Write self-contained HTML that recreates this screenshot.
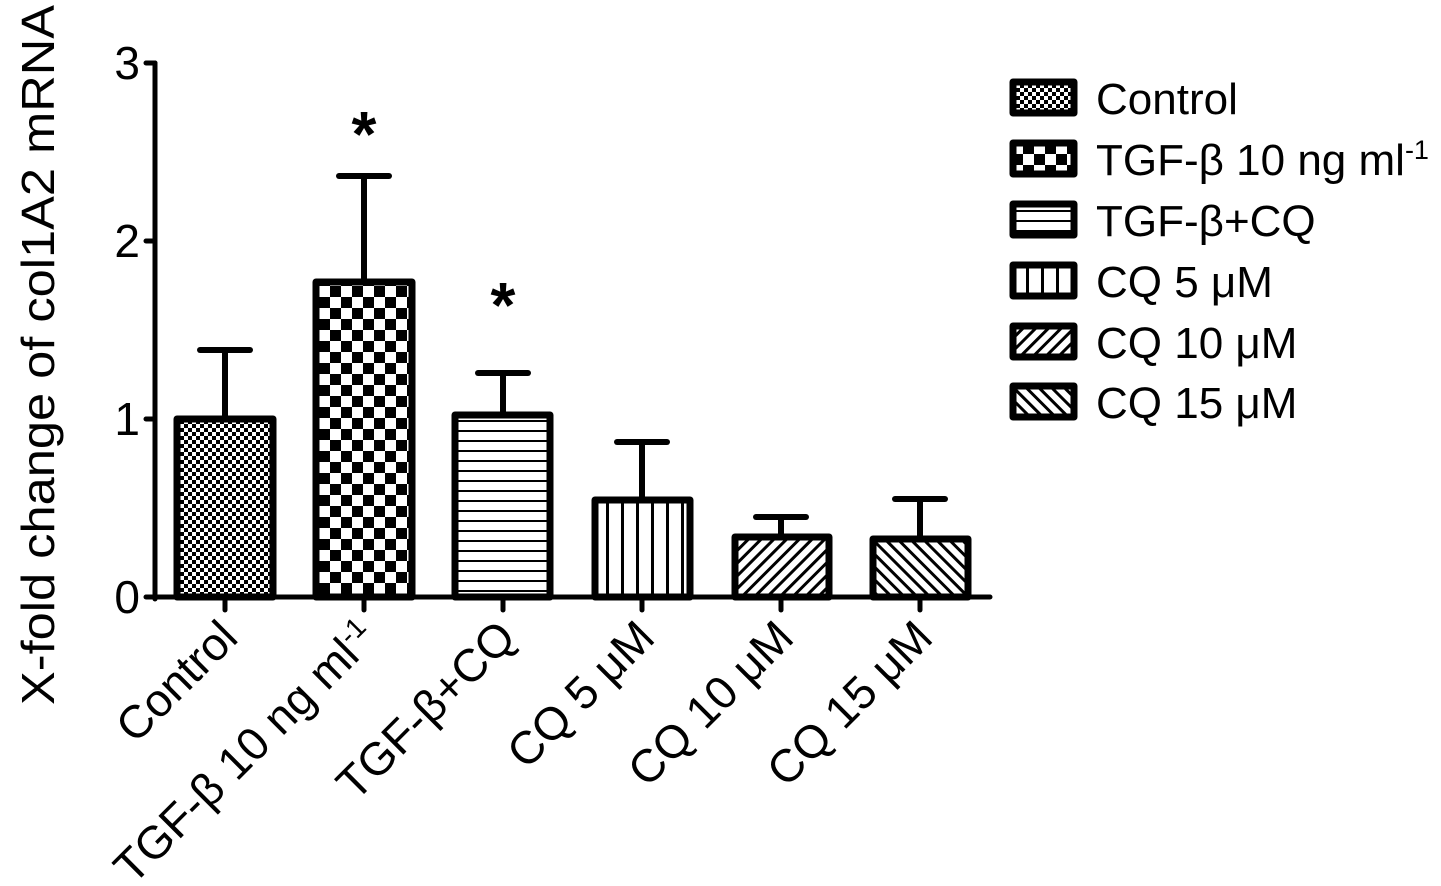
<!DOCTYPE html>
<html><head><meta charset="utf-8"><style>html,body{margin:0;padding:0;background:#fff}svg{display:block}text{font-family:"Liberation Sans",Arial,sans-serif;fill:#000}</style></head>
<body>
<svg width="1441" height="886" viewBox="0 0 1441 886" xmlns="http://www.w3.org/2000/svg">
<defs>
<pattern id="p1" width="8" height="8" patternUnits="userSpaceOnUse"><rect width="8" height="8" fill="#fff"/><rect width="4" height="4" fill="#000"/><rect x="4" y="4" width="4" height="4" fill="#000"/></pattern>
<pattern id="p2" width="22" height="22" patternUnits="userSpaceOnUse"><rect width="22" height="22" fill="#fff"/><rect width="11" height="11" fill="#000"/><rect x="11" y="11" width="11" height="11" fill="#000"/></pattern>
<pattern id="p3" width="10" height="10" patternUnits="userSpaceOnUse"><rect width="10" height="10" fill="#fff"/><rect y="0" width="10" height="2" fill="#000"/></pattern>
<pattern id="p4" width="15" height="10" patternUnits="userSpaceOnUse"><rect width="15" height="10" fill="#fff"/><rect x="6" width="3" height="10" fill="#000"/></pattern>
<pattern id="p5" width="9" height="9" patternUnits="userSpaceOnUse" patternTransform="rotate(45)"><rect width="9" height="9" fill="#fff"/><rect width="3" height="9" fill="#000"/></pattern>
<pattern id="p6" width="9" height="9" patternUnits="userSpaceOnUse" patternTransform="rotate(-45)"><rect width="9" height="9" fill="#fff"/><rect width="3" height="9" fill="#000"/></pattern>
</defs>
<g stroke="#000" stroke-width="5" fill="none" stroke-linecap="round">
<line x1="155" y1="63" x2="155" y2="599"/>
<line x1="146" y1="63" x2="155" y2="63"/><line x1="146" y1="241" x2="155" y2="241"/><line x1="146" y1="419" x2="155" y2="419"/>
<line x1="146" y1="597" x2="990" y2="597"/>
<line x1="225" y1="597" x2="225" y2="610"/><line x1="364" y1="597" x2="364" y2="610"/><line x1="503" y1="597" x2="503" y2="610"/><line x1="642" y1="597" x2="642" y2="610"/><line x1="781" y1="597" x2="781" y2="610"/><line x1="920" y1="597" x2="920" y2="610"/>
</g>
<g stroke="#000" stroke-width="6" stroke-linecap="round">
<line x1="225" y1="419" x2="225" y2="350"/><line x1="200" y1="350" x2="250" y2="350"/>
<line x1="364" y1="282" x2="364" y2="176"/><line x1="339" y1="176" x2="389" y2="176"/>
<line x1="503" y1="413" x2="503" y2="373"/><line x1="478" y1="373" x2="528" y2="373"/>
<line x1="642" y1="500" x2="642" y2="442"/><line x1="617" y1="442" x2="667" y2="442"/>
<line x1="781" y1="536" x2="781" y2="517"/><line x1="756" y1="517" x2="806" y2="517"/>
<line x1="920" y1="538" x2="920" y2="499"/><line x1="895" y1="499" x2="945" y2="499"/>
</g>
<g stroke="#000" stroke-width="7" stroke-linejoin="round">
<rect x="177" y="419" width="96" height="178" fill="url(#p1)"/>
<rect x="316" y="282" width="96" height="315" fill="url(#p2)"/>
<rect x="455" y="415" width="95" height="182" fill="url(#p3)"/>
<rect x="595" y="500" width="95" height="97" fill="url(#p4)"/>
<rect x="735" y="537" width="94" height="60" fill="url(#p5)"/>
<rect x="873" y="539" width="95" height="58" fill="url(#p6)"/>
</g>
<g font-size="46" text-anchor="end">
<text x="140" y="79">3</text><text x="140" y="257">2</text><text x="140" y="435">1</text><text x="140" y="613">0</text>
</g>
<text transform="translate(54,355) rotate(-90)" font-size="46" text-anchor="middle" textLength="700" lengthAdjust="spacingAndGlyphs">X-fold change of col1A2 mRNA</text>
<g font-size="64" font-weight="bold" text-anchor="middle"><text x="364" y="156">*</text><text x="503" y="327">*</text></g>
<g font-size="46" text-anchor="end">
<text transform="translate(240,640) rotate(-45)">Control</text>
<text transform="translate(379,640) rotate(-45)">TGF-β 10 ng ml<tspan dy="-16" font-size="28">-1</tspan></text>
<text transform="translate(518,640) rotate(-45)">TGF-β+CQ</text>
<text transform="translate(657,640) rotate(-45)">CQ 5 μM</text>
<text transform="translate(796,640) rotate(-45)">CQ 10 μM</text>
<text transform="translate(935,640) rotate(-45)">CQ 15 μM</text>
</g>
<g stroke="#000" stroke-width="7" stroke-linejoin="round">
<rect x="1013" y="82" width="61" height="31" fill="url(#p1)"/>
<rect x="1013" y="143" width="61" height="31" fill="url(#p2)"/>
<rect x="1013" y="204" width="61" height="31" fill="url(#p3)"/>
<rect x="1013" y="265" width="61" height="31" fill="url(#p4)"/>
<rect x="1013" y="326" width="61" height="31" fill="url(#p5)"/>
<rect x="1013" y="386" width="61" height="31" fill="url(#p6)"/>
</g>
<g font-size="44">
<text x="1096" y="114">Control</text>
<text x="1096" y="175">TGF-β 10 ng ml<tspan dy="-16" font-size="27">-1</tspan></text>
<text x="1096" y="236">TGF-β+CQ</text>
<text x="1096" y="297">CQ 5 μM</text>
<text x="1096" y="358">CQ 10 μM</text>
<text x="1096" y="418">CQ 15 μM</text>
</g>
</svg>
</body></html>
